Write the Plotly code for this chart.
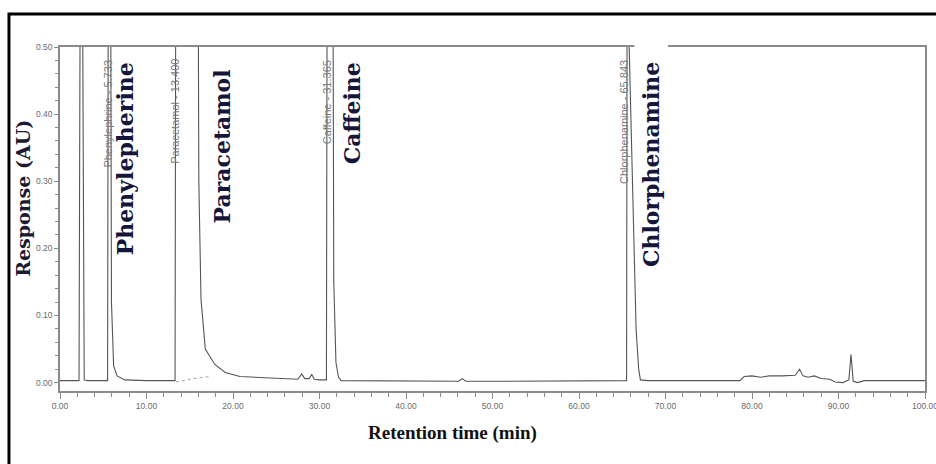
import plotly.graph_objects as go

# Chromatogram trace (retention time in min, response in AU)
time_min = [0.0, 2.2, 2.4, 2.5, 2.8, 3.2, 5.5, 5.62, 5.8, 5.95, 6.2, 6.6, 7.5, 10.0, 13.3,
            13.42, 15.9, 16.05, 16.3, 16.8, 17.9, 19.1, 20.8, 23.0, 25.5, 27.5, 27.95, 28.3,
            28.8, 29.1, 29.4, 30.0, 30.8, 30.92, 31.5, 31.65, 31.9, 32.2, 32.5, 36.0, 40.0,
            46.1, 46.5, 46.9, 50.0, 55.0, 60.0, 65.5, 65.6, 65.8, 66.6, 66.9, 67.1, 68.0,
            72.0, 76.0, 78.6, 79.1, 80.0, 81.0, 82.0, 83.5, 85.0, 85.5, 85.9, 86.5, 87.2,
            88.0, 89.0, 89.6, 90.5, 91.2, 91.45, 91.7, 92.2, 93.0, 100.0]
response_au = [0.003, 0.003, 0.9, 0.9, 0.004, 0.003, 0.003, 0.9, 0.9, 0.12, 0.025, 0.01, 0.004,
               0.003, 0.003, 0.9, 0.9, 0.3, 0.124, 0.05, 0.027, 0.015, 0.009, 0.008, 0.006,
               0.005, 0.013, 0.006, 0.006, 0.012, 0.005, 0.004, 0.004, 0.9, 0.9, 0.15, 0.03,
               0.008, 0.003, 0.003, 0.002, 0.002, 0.006, 0.002, 0.002, 0.002, 0.002, 0.003,
               0.95, 0.5, 0.08, 0.02, 0.004, 0.003, 0.003, 0.003, 0.003, 0.009, 0.010, 0.008,
               0.010, 0.010, 0.011, 0.020, 0.010, 0.008, 0.010, 0.006, 0.005, 0.001, 0.0,
               0.004, 0.042, 0.002, 0.0, 0.003, 0.003]

# faint baseline visible underneath the saturated paracetamol peak
baseline_time = [13.4, 14.5, 15.5, 16.5, 17.5]
baseline_resp = [0.001, 0.004, 0.006, 0.008, 0.009]

# Software peak labels (small grey) and analyte names (large bold)
peak_labels = ["Phenylephrine - 5.733", "Paracetamol - 13.400", "Caffeine - 31.365",
               "Chlorphenamine - 65.843"]
peak_label_x = [5.5, 13.2, 30.9, 65.2]
peak_label_top = [0.4836, 0.485, 0.4836, 0.4836]

analyte_names = ["Phenylepherine", "Paracetamol", "Caffeine", "Chlorphenamine"]
analyte_x = [7.6, 18.7, 33.8, 68.4]
analyte_top = [0.4807, 0.469, 0.4807, 0.4807]

x_ticks = [0, 10, 20, 30, 40, 50, 60, 70, 80, 90, 100]
y_ticks = [0.0, 0.1, 0.2, 0.3, 0.4, 0.5]

AXIS_GREY = "#8a8a8a"
TICK_FONT = dict(family="Liberation Sans, Arial", size=8.5, color="#6a6a6a")

fig = go.Figure()
fig.add_trace(go.Scatter(x=baseline_time, y=baseline_resp, mode="lines",
                         line=dict(color="#a0a0a0", width=1, dash="dot"), showlegend=False,
                         hoverinfo="skip"))
fig.add_trace(go.Scatter(x=time_min, y=response_au, mode="lines",
                         line=dict(color="#555555", width=1.1), showlegend=False,
                         hoverinfo="x+y"))

ann = []
for txt, x, top in zip(peak_labels, peak_label_x, peak_label_top):
    ann.append(dict(x=x, y=top, xref="x", yref="y", text=txt, showarrow=False,
                    textangle=-90, xanchor="center", yanchor="top",
                    font=dict(family="Liberation Sans, Arial", size=11, color="#7a7a7a")))
for txt, x, top in zip(analyte_names, analyte_x, analyte_top):
    ann.append(dict(x=x, y=top, xref="x", yref="y", text="<b>" + txt + "</b>",
                    showarrow=False, textangle=-90, xanchor="center", yanchor="top",
                    font=dict(family="DejaVu Serif", size=22, color="#16163a")))
ann.append(dict(x=-0.043, y=0.561, xref="paper", yref="paper", text="<b>Response (AU)</b>",
                showarrow=False, textangle=-90, xanchor="center", yanchor="middle",
                font=dict(family="DejaVu Serif", size=19, color="#1c1a30")))
ann.append(dict(x=0.454, y=-0.122, xref="paper", yref="paper",
                text="<b>Retention time (min)</b>", showarrow=False,
                xanchor="center", yanchor="middle",
                font=dict(family="Liberation Serif", size=19, color="#111111")))

shapes = [
    # outer black frame of the figure
    dict(type="rect", xref="paper", yref="paper", x0=-0.059, x1=1.05, y0=-0.6, y1=1.096,
         line=dict(color="black", width=3), fillcolor="rgba(0,0,0,0)", layer="above"),
    # white gap in the top frame behind the Chlorphenamine label
    dict(type="rect", xref="x", yref="paper", x0=66.4, x1=70.3, y0=0.975, y1=1.03,
         line=dict(width=0), fillcolor="white", layer="above"),
]

fig.update_layout(
    width=936, height=464,
    margin=dict(l=60, r=11, t=47, b=73, autoexpand=False),
    paper_bgcolor="white", plot_bgcolor="white",
    annotations=ann, shapes=shapes,
    xaxis=dict(range=[0, 100], tickvals=x_ticks, tickformat=".2f", showgrid=False,
               zeroline=False, showline=True, linecolor=AXIS_GREY, linewidth=1.5,
               mirror=True, ticks="outside", ticklen=6, tickcolor=AXIS_GREY,
               tickfont=TICK_FONT, ticklabeloverflow="allow", automargin=False,
               minor=dict(dtick=2, ticks="outside", ticklen=4, tickcolor=AXIS_GREY)),
    yaxis=dict(range=[-0.0125, 0.5], tickvals=y_ticks, tickformat=".2f", showgrid=False,
               zeroline=False, showline=True, linecolor=AXIS_GREY, linewidth=1.5,
               mirror=True, ticks="outside", ticklen=4, tickcolor=AXIS_GREY,
               tickfont=TICK_FONT, automargin=False,
               minor=dict(dtick=0.02, ticks="outside", ticklen=3, tickcolor=AXIS_GREY)),
)

fig.write_html("out.html")
